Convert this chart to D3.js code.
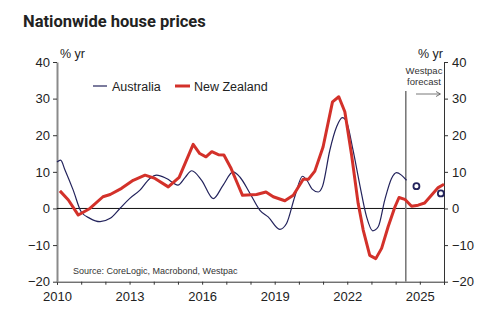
<!DOCTYPE html>
<html>
<head>
<meta charset="utf-8">
<script src="https://cdn.jsdelivr.net/npm/d3@7"></script>
<style>
  body { margin: 0; background: #fff; }
  text { font-family: "Liberation Sans", Arial, sans-serif; }
</style>
</head>
<body>
<div id="chart-area"></div>
<script>
// annual % change, decimal year
var ausYears = [2010.0, 2010.15, 2010.33, 2010.67, 2011.0, 2011.36, 2011.78, 2012.2, 2012.6, 2013.0,
  2013.43, 2013.84, 2014.12, 2014.53, 2015.0, 2015.3, 2015.57, 2015.98, 2016.46, 2016.87,
  2017.28, 2017.56, 2017.98, 2018.39, 2018.73, 2019.21, 2019.49, 2019.83, 2020.15, 2020.35,
  2020.55, 2020.8, 2020.98, 2021.28, 2021.56, 2021.8, 2021.97, 2022.24, 2022.52, 2022.8,
  2023.05, 2023.28, 2023.55, 2023.83, 2024.04, 2024.24, 2024.45];
var ausValues = [12.7, 13.2, 10.5, 5, -0.9, -2.7, -3.6, -2.7, 0, 2.7,
  5, 8.2, 9.1, 8.2, 6.4, 8.5, 10.3, 7.7, 2.7, 6.4,
  10, 8.6, 4.1, -0.5, -2.3, -5.7, -4.1, 3.2, 8.8, 7.5,
  5.3, 4.5, 6.1, 15.9, 22.3, 24.8, 23.7, 15.9, 6.4, -2.3,
  -6.1, -5, 2.3, 8.2, 9.8, 9.1, 7.7];

var nzYears = [2010.12, 2010.47, 2010.88, 2011.36, 2011.9, 2012.2, 2012.67, 2013.15, 2013.64, 2014.05,
  2014.6, 2015.05, 2015.63, 2015.9, 2016.16, 2016.4, 2016.67, 2016.9, 2017.2, 2017.43,
  2017.67, 2018.25, 2018.64, 2018.94, 2019.42, 2019.77, 2020.18, 2020.4, 2020.66, 2021.0,
  2021.39, 2021.65, 2021.9, 2022.18, 2022.45, 2022.66, 2022.93, 2023.18, 2023.42, 2023.69,
  2023.97, 2024.14, 2024.38, 2024.66, 2024.93, 2025.2, 2025.48, 2025.76, 2026.0];
var nzValues = [4.8, 2.3, -1.8, 0, 3.2, 3.8, 5.5, 7.7, 9.1, 8.2,
  5.9, 8.5, 17.5, 15, 14.1, 15.5, 14.7, 14.6, 10.9, 7.3,
  3.6, 3.8, 4.5, 3.2, 2.1, 3.6, 8, 8, 10.2, 16.8,
  29.1, 30.5, 26.4, 14.6, 1.4, -5.9, -12.8, -13.7, -10.9, -5,
  0.4, 3, 2.5, 0.6, 0.9, 1.5, 3.6, 5.7, 6.6];

// Westpac forecasts for Australia (end of year)
var ausForecastYears = [2024.86, 2025.87];
var ausForecastValues = [6.1, 4.1];

var forecastStart = 2024.42;
var yTicks = [-20, -10, 0, 10, 20, 30, 40];
var xLabelYears = [2010, 2013, 2016, 2019, 2022, 2025];

var width = 494, height = 324;
var margin = { top: 62, right: 50, bottom: 42.3, left: 57 };
var plotW = width - margin.left - margin.right;
var plotH = height - margin.top - margin.bottom;

var navy = "#23235c";
var red = "#d3312a";

var svg = d3.select("#chart-area")
  .append("svg")
  .attr("width", width)
  .attr("height", height);

svg.append("text")
  .attr("x", 23)
  .attr("y", 26.5)
  .attr("font-size", "16.5px")
  .attr("font-weight", "bold")
  .style("font-family", "Roboto, sans-serif")
  .style("fill", "#222")
  .text("Nationwide house prices");

var g = svg.append("g")
  .attr("transform", "translate(" + margin.left + ", " + margin.top + ")");

var x = d3.scaleLinear().domain([2010, 2026]).range([0, plotW]);
var y = d3.scaleLinear().domain([-20, 40]).range([plotH, 0]);

// axes
var xAxisG = g.append("g")
  .attr("transform", "translate(0, " + plotH + ")")
  .call(d3.axisBottom(x)
    .tickValues(d3.range(2010, 2027))
    .tickSize(3)
    .tickFormat(d => xLabelYears.indexOf(d) >= 0 ? d : ""));
xAxisG.selectAll("text").attr("font-size", "13px").attr("dy", "1.05em").style("fill", "#222");
xAxisG.selectAll(".domain, .tick line").style("stroke", "#333");

var yAxisL = g.append("g")
  .call(d3.axisLeft(y).tickValues(yTicks).tickSize(4).tickSizeOuter(0));
yAxisL.selectAll("text").attr("font-size", "13px").attr("x", -7).style("fill", "#222");
yAxisL.selectAll(".tick line").style("stroke", "#333");
yAxisL.select(".domain").style("stroke", "#8a8a8a").style("stroke-width", 2);

var yAxisR = g.append("g")
  .attr("transform", "translate(" + plotW + ", 0)")
  .call(d3.axisRight(y).tickValues(yTicks).tickSize(4).tickSizeOuter(0));
yAxisR.selectAll("text").attr("font-size", "13px").attr("x", 8).style("fill", "#222");
yAxisR.selectAll(".domain, .tick line").style("stroke", "#333");

// zero line
g.append("line")
  .attr("x1", 0).attr("x2", plotW)
  .attr("y1", y(0)).attr("y2", y(0))
  .attr("stroke", "#111").attr("stroke-width", 1);

// forecast divider
g.append("line")
  .attr("x1", x(forecastStart)).attr("x2", x(forecastStart))
  .attr("y1", 29).attr("y2", plotH)
  .attr("stroke", "#7a7a7a").attr("stroke-width", 1.6);

svg.append("text").attr("x", 424).attr("y", 74)
  .attr("text-anchor", "middle").attr("font-size", "9.5px").style("fill", "#333")
  .text("Westpac");
svg.append("text").attr("x", 424).attr("y", 84.5)
  .attr("text-anchor", "middle").attr("font-size", "9.5px").style("fill", "#333")
  .text("forecast");
svg.append("line")
  .attr("x1", 416).attr("x2", 440).attr("y1", 94).attr("y2", 94)
  .attr("stroke", "#555").attr("stroke-width", 0.8);
svg.append("path")
  .attr("d", "M436,91.5 L440.5,94 L436,96.5")
  .attr("fill", "none").attr("stroke", "#555").attr("stroke-width", 0.8);

// axis units
svg.append("text").attr("x", 60).attr("y", 58).attr("font-size", "12.5px").style("fill", "#222").text("% yr");
svg.append("text").attr("x", 443).attr("y", 58).attr("text-anchor", "end").attr("font-size", "12.5px").style("fill", "#222").text("% yr");

// series
var ausData = ausYears.map((d, i) => ({ year: d, value: ausValues[i] }));
var nzData = nzYears.map((d, i) => ({ year: d, value: nzValues[i] }));

var ausLine = d3.line()
  .x(d => x(d.year)).y(d => y(d.value))
  .curve(d3.curveMonotoneX);
var nzLine = d3.line()
  .x(d => x(d.year)).y(d => y(d.value));

g.append("path").datum(ausData)
  .attr("d", ausLine)
  .attr("fill", "none").attr("stroke", navy).attr("stroke-width", 1.2);

g.append("path").datum(nzData)
  .attr("d", nzLine)
  .attr("fill", "none").attr("stroke", red).attr("stroke-width", 3)
  .attr("stroke-linejoin", "round");

g.selectAll(".fc").data(ausForecastYears).enter().append("circle")
  .attr("class", "fc")
  .attr("cx", d => x(d))
  .attr("cy", (d, i) => y(ausForecastValues[i]))
  .attr("r", 3)
  .attr("fill", "#fff").attr("stroke", navy).attr("stroke-width", 1.8);

// legend
var legend = svg.append("g");
legend.append("line").attr("x1", 93).attr("x2", 107).attr("y1", 86).attr("y2", 86)
  .attr("stroke", navy).attr("stroke-width", 1.2);
legend.append("text").attr("x", 112).attr("y", 90.5).attr("font-size", "12.5px").style("fill", "#222").text("Australia");
legend.append("line").attr("x1", 175).attr("x2", 190).attr("y1", 86).attr("y2", 86)
  .attr("stroke", red).attr("stroke-width", 3);
legend.append("text").attr("x", 194).attr("y", 90.5).attr("font-size", "12.5px").style("fill", "#222").text("New Zealand");

svg.append("text").attr("x", 73).attr("y", 274).attr("font-size", "9px").style("fill", "#333")
  .text("Source: CoreLogic, Macrobond, Westpac");
</script>
</body>
</html>
